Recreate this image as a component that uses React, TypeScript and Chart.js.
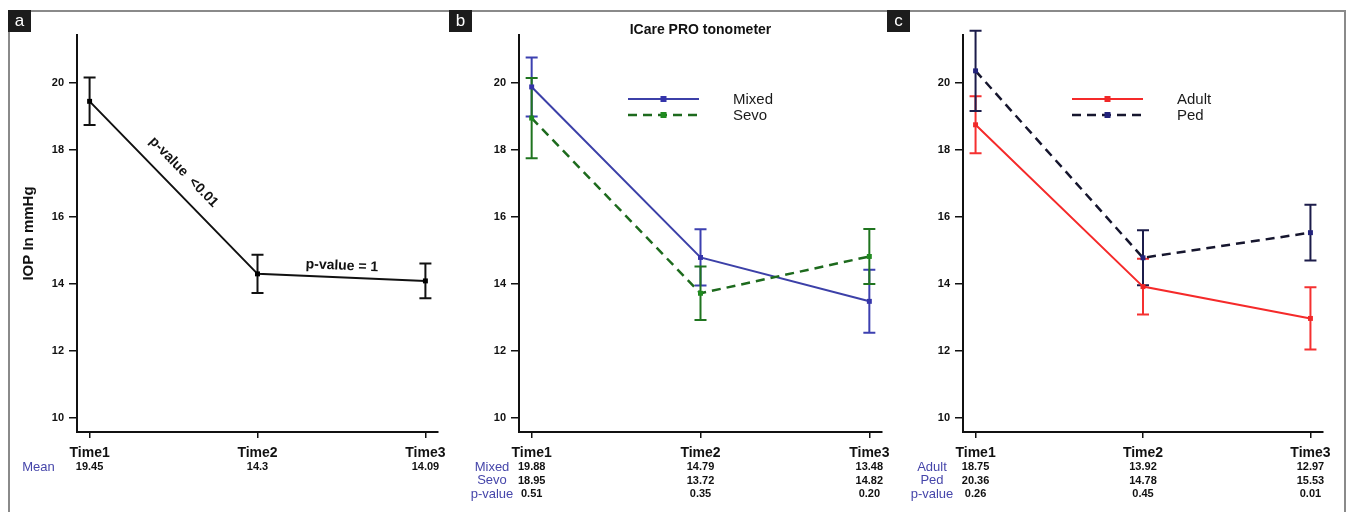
import React, { useEffect, useRef } from 'react';
import { Chart, registerables } from 'chart.js';

Chart.register(...registerables);

// ---------- data ----------
const TIMES = ['Time1', 'Time2', 'Time3'];
const X_POS = [1, 2, 3];
const Y_TICKS = [10, 12, 14, 16, 18, 20];

// panel a: all patients
const MEAN_ALL = [19.45, 14.3, 14.09];
const MEAN_ALL_ERR = [0.71, 0.57, 0.52];
const A_NOTES = ['p-value  <0.01', 'p-value = 1'];

// panel b: anaesthesia type
const MIXED = [19.88, 14.79, 13.48];
const MIXED_ERR = [0.88, 0.84, 0.94];
const SEVO = [18.95, 13.72, 14.82];
const SEVO_ERR = [1.2, 0.8, 0.82];
const B_PVALUES = ['0.51', '0.35', '0.20'];

// panel c: age group
const ADULT = [18.75, 13.92, 12.97];
const ADULT_ERR = [0.85, 0.83, 0.93];
const PED = [20.36, 14.78, 15.53];
const PED_ERR = [1.2, 0.82, 0.83];
const C_PVALUES = ['0.26', '0.45', '0.01'];

const FONT = '"Liberation Sans", Arial, Helvetica, sans-serif';
const LABEL_BLUE = '#4646aa';

type Series = {
  name: string;
  values: number[];
  err: number[];
  line: string;
  point: string;
  bar: string;
  dash: number[];
  width: number;
};

type Row = { label: string; values: string[] };

type Panel = {
  letter: string;
  boxLeft: number;
  series: Series[];
  rows: Row[];
  padLeft: number;
  padRight: number;
  yWidth: number;
  labelOffset: number;
  yTitle?: string;
  title?: string;
  legend: boolean;
  notes: boolean;
};

const fmt = (v: number) => String(v);

const PANELS: Panel[] = [
  {
    letter: 'a',
    boxLeft: 8,
    series: [
      { name: 'Mean', values: MEAN_ALL, err: MEAN_ALL_ERR, line: '#111111', point: '#000000', bar: '#111111', dash: [], width: 2 },
    ],
    rows: [{ label: 'Mean', values: MEAN_ALL.map(fmt) }],
    padLeft: 16,
    padRight: 1346 - 438,
    yWidth: 61,
    labelOffset: -38.5,
    yTitle: 'IOP In mmHg',
    legend: false,
    notes: true,
  },
  {
    letter: 'b',
    boxLeft: 449,
    series: [
      { name: 'Mixed', values: MIXED, err: MIXED_ERR, line: '#3c40a8', point: '#3434aa', bar: '#3c40b0', dash: [], width: 2 },
      { name: 'Sevo', values: SEVO, err: SEVO_ERR, line: '#1d6a1d', point: '#1f8a1f', bar: '#1f741f', dash: [9, 6], width: 2.5 },
    ],
    rows: [
      { label: 'Mixed', values: MIXED.map(fmt) },
      { label: 'Sevo', values: SEVO.map(fmt) },
      { label: 'p-value', values: B_PVALUES },
    ],
    padLeft: 519 - 40,
    padRight: 1346 - 882,
    yWidth: 40,
    labelOffset: -27,
    title: 'ICare PRO tonometer',
    legend: true,
    notes: false,
  },
  {
    letter: 'c',
    boxLeft: 887,
    series: [
      { name: 'Adult', values: ADULT, err: ADULT_ERR, line: '#f52a2a', point: '#f02828', bar: '#f53030', dash: [], width: 2 },
      { name: 'Ped', values: PED, err: PED_ERR, line: '#16162e', point: '#22227a', bar: '#1c1c4a', dash: [9, 6], width: 2.5 },
    ],
    rows: [
      { label: 'Adult', values: ADULT.map(fmt) },
      { label: 'Ped', values: PED.map(fmt) },
      { label: 'p-value', values: C_PVALUES },
    ],
    padLeft: 963 - 40,
    padRight: 1346 - 1323,
    yWidth: 40,
    labelOffset: -31,
    legend: true,
    notes: false,
  },
];

const makePlugin = (p: Panel) => ({
  id: 'decor_' + p.letter,
  beforeDatasetsDraw(chart: any) {
    const ctx = chart.ctx;
    const xs = chart.scales.x;
    const ys = chart.scales.y;
    p.series.forEach((s) => {
      ctx.save();
      ctx.strokeStyle = s.bar;
      ctx.lineWidth = 2;
      s.values.forEach((v, i) => {
        const x = xs.getPixelForValue(X_POS[i]);
        const yTop = ys.getPixelForValue(v + s.err[i]);
        const yBot = ys.getPixelForValue(v - s.err[i]);
        ctx.beginPath();
        ctx.moveTo(x, yTop);
        ctx.lineTo(x, yBot);
        ctx.moveTo(x - 6, yTop);
        ctx.lineTo(x + 6, yTop);
        ctx.moveTo(x - 6, yBot);
        ctx.lineTo(x + 6, yBot);
        ctx.stroke();
      });
      ctx.restore();
    });
  },
  afterDraw(chart: any) {
    const ctx = chart.ctx;
    const ca = chart.chartArea;
    const xs = chart.scales.x;
    const ys = chart.scales.y;

    // title
    if (p.title) {
      ctx.save();
      ctx.font = `bold 14px ${FONT}`;
      ctx.fillStyle = '#111';
      ctx.textAlign = 'center';
      ctx.textBaseline = 'middle';
      ctx.fillText(p.title, (ca.left + ca.right) / 2, 30);
      ctx.restore();
    }

    // legend
    if (p.legend) {
      p.series.forEach((s, i) => {
        const y = ca.top + 64 + 16 * i;
        const x1 = ca.left + 109;
        const x2 = ca.left + 180;
        ctx.save();
        ctx.strokeStyle = s.line;
        ctx.lineWidth = s.width;
        ctx.setLineDash(s.dash);
        ctx.beginPath();
        ctx.moveTo(x1, y);
        ctx.lineTo(x2, y);
        ctx.stroke();
        ctx.setLineDash([]);
        ctx.fillStyle = s.point;
        const mx = (x1 + x2) / 2;
        ctx.fillRect(mx - 3, y - 3, 6, 6);
        ctx.font = `15px ${FONT}`;
        ctx.fillStyle = '#1a1a1a';
        ctx.textAlign = 'left';
        ctx.textBaseline = 'middle';
        ctx.fillText(s.name, ca.left + 214, y + 1);
        ctx.restore();
      });
    }

    // table under x axis
    p.rows.forEach((r, ri) => {
      const y = ca.bottom + 35 + 13.5 * ri;
      ctx.save();
      ctx.textBaseline = 'middle';
      ctx.textAlign = 'center';
      ctx.font = `13px ${FONT}`;
      ctx.fillStyle = LABEL_BLUE;
      ctx.fillText(r.label, ca.left + p.labelOffset, y);
      ctx.font = `bold 11px ${FONT}`;
      ctx.fillStyle = '#111';
      r.values.forEach((v, i) => {
        ctx.fillText(v, xs.getPixelForValue(X_POS[i]), y);
      });
      ctx.restore();
    });

    // p-value notes along the mean line
    if (p.notes) {
      const s = p.series[0];
      const pts = s.values.map((v, i) => ({ x: xs.getPixelForValue(X_POS[i]), y: ys.getPixelForValue(v) }));
      const place = [
        { along: -4, perp: 18 },
        { along: 0, perp: 11.5 },
      ];
      A_NOTES.forEach((txt, k) => {
        const a = pts[k];
        const b = pts[k + 1];
        const ang = Math.atan2(b.y - a.y, b.x - a.x);
        const dx = Math.cos(ang);
        const dy = Math.sin(ang);
        const nx = Math.sin(ang);
        const ny = -Math.cos(ang);
        const cx = (a.x + b.x) / 2 + dx * place[k].along + nx * place[k].perp;
        const cy = (a.y + b.y) / 2 + dy * place[k].along + ny * place[k].perp;
        ctx.save();
        ctx.translate(cx, cy);
        ctx.rotate(ang);
        ctx.font = `bold 14px ${FONT}`;
        ctx.fillStyle = '#111';
        ctx.textAlign = 'center';
        ctx.textBaseline = 'middle';
        ctx.fillText(txt, 0, 0);
        ctx.restore();
      });
    }
  },
});

const makeConfig = (p: Panel): any => ({
  type: 'line',
  data: {
    datasets: p.series.map((s, i) => ({
      label: s.name,
      data: X_POS.map((x, k) => ({ x, y: s.values[k] })),
      borderColor: s.line,
      borderWidth: s.width,
      borderDash: s.dash,
      backgroundColor: s.point,
      pointStyle: 'rect',
      pointRadius: 3.5,
      pointBorderWidth: 0,
      pointBackgroundColor: s.point,
      tension: 0,
      clip: false,
      order: p.series.length - i,
    })),
  },
  options: {
    responsive: false,
    animation: false,
    devicePixelRatio: 1,
    events: [],
    layout: { padding: { left: p.padLeft, right: p.padRight, top: 35, bottom: 50 } },
    plugins: {
      legend: { display: false },
      tooltip: { enabled: false },
      title: { display: false },
    },
    scales: {
      x: {
        type: 'linear',
        min: 0.925,
        max: 3.075,
        afterBuildTicks: (scale: any) => {
          scale.ticks = X_POS.map((v) => ({ value: v }));
        },
        afterFit: (scale: any) => {
          scale.height = 30;
        },
        ticks: {
          callback: (_v: any, i: number) => TIMES[i],
          font: { family: FONT, size: 14, weight: 'bold' },
          color: '#111',
          padding: 7,
          maxRotation: 0,
          autoSkip: false,
        },
        grid: { drawOnChartArea: false, drawTicks: true, tickLength: 6, color: '#111', lineWidth: 1.5 },
        border: { display: true, color: '#111', width: 2 },
      },
      y: {
        type: 'linear',
        min: 9.58,
        max: 21.43,
        afterBuildTicks: (scale: any) => {
          scale.ticks = Y_TICKS.map((v) => ({ value: v }));
        },
        afterFit: (scale: any) => {
          scale.width = p.yWidth;
        },
        ticks: {
          callback: (v: any) => String(v),
          font: { family: FONT, size: 11, weight: 'bold' },
          color: '#111',
          padding: 5,
        },
        title: p.yTitle
          ? {
              display: true,
              text: p.yTitle,
              font: { family: FONT, size: 15, weight: 'bold' },
              color: '#111',
              padding: { top: 4, bottom: 4 },
            }
          : { display: false },
        grid: { drawOnChartArea: false, drawTicks: true, tickLength: 8, color: '#111', lineWidth: 1.5 },
        border: { display: true, color: '#111', width: 2 },
      },
    },
  },
  plugins: [makePlugin(p)],
});

export default function App() {
  const r0 = useRef<HTMLCanvasElement | null>(null);
  const r1 = useRef<HTMLCanvasElement | null>(null);
  const r2 = useRef<HTMLCanvasElement | null>(null);
  const refs = [r0, r1, r2];

  useEffect(() => {
    const charts = PANELS.map((p, i) => new Chart(refs[i].current as HTMLCanvasElement, makeConfig(p)));
    return () => charts.forEach((c) => c.destroy());
  }, []);

  return (
    <div style={{ position: 'fixed', left: 0, top: 0, width: 1346, height: 512, background: '#fff', overflow: 'hidden' }}>
      {PANELS.map((p, i) => (
        <canvas
          key={p.letter}
          ref={refs[i]}
          width={1346}
          height={512}
          style={{ position: 'absolute', left: 0, top: 0, width: 1346, height: 512 }}
        />
      ))}
      <div
        style={{
          position: 'absolute',
          left: 8,
          top: 10,
          width: 1338,
          height: 520,
          boxSizing: 'border-box',
          borderTop: '2px solid #8a8a8a',
          borderLeft: '2px solid #8a8a8a',
          borderRight: '2px solid #8a8a8a',
        }}
      />
      {PANELS.map((p) => (
        <div
          key={'lbl' + p.letter}
          style={{
            position: 'absolute',
            left: p.boxLeft,
            top: 10,
            width: 23,
            height: 22,
            background: '#1c1c1c',
            color: '#fff',
            font: `17px ${FONT}`,
            lineHeight: '21px',
            textAlign: 'center',
          }}
        >
          {p.letter}
        </div>
      ))}
    </div>
  );
}
